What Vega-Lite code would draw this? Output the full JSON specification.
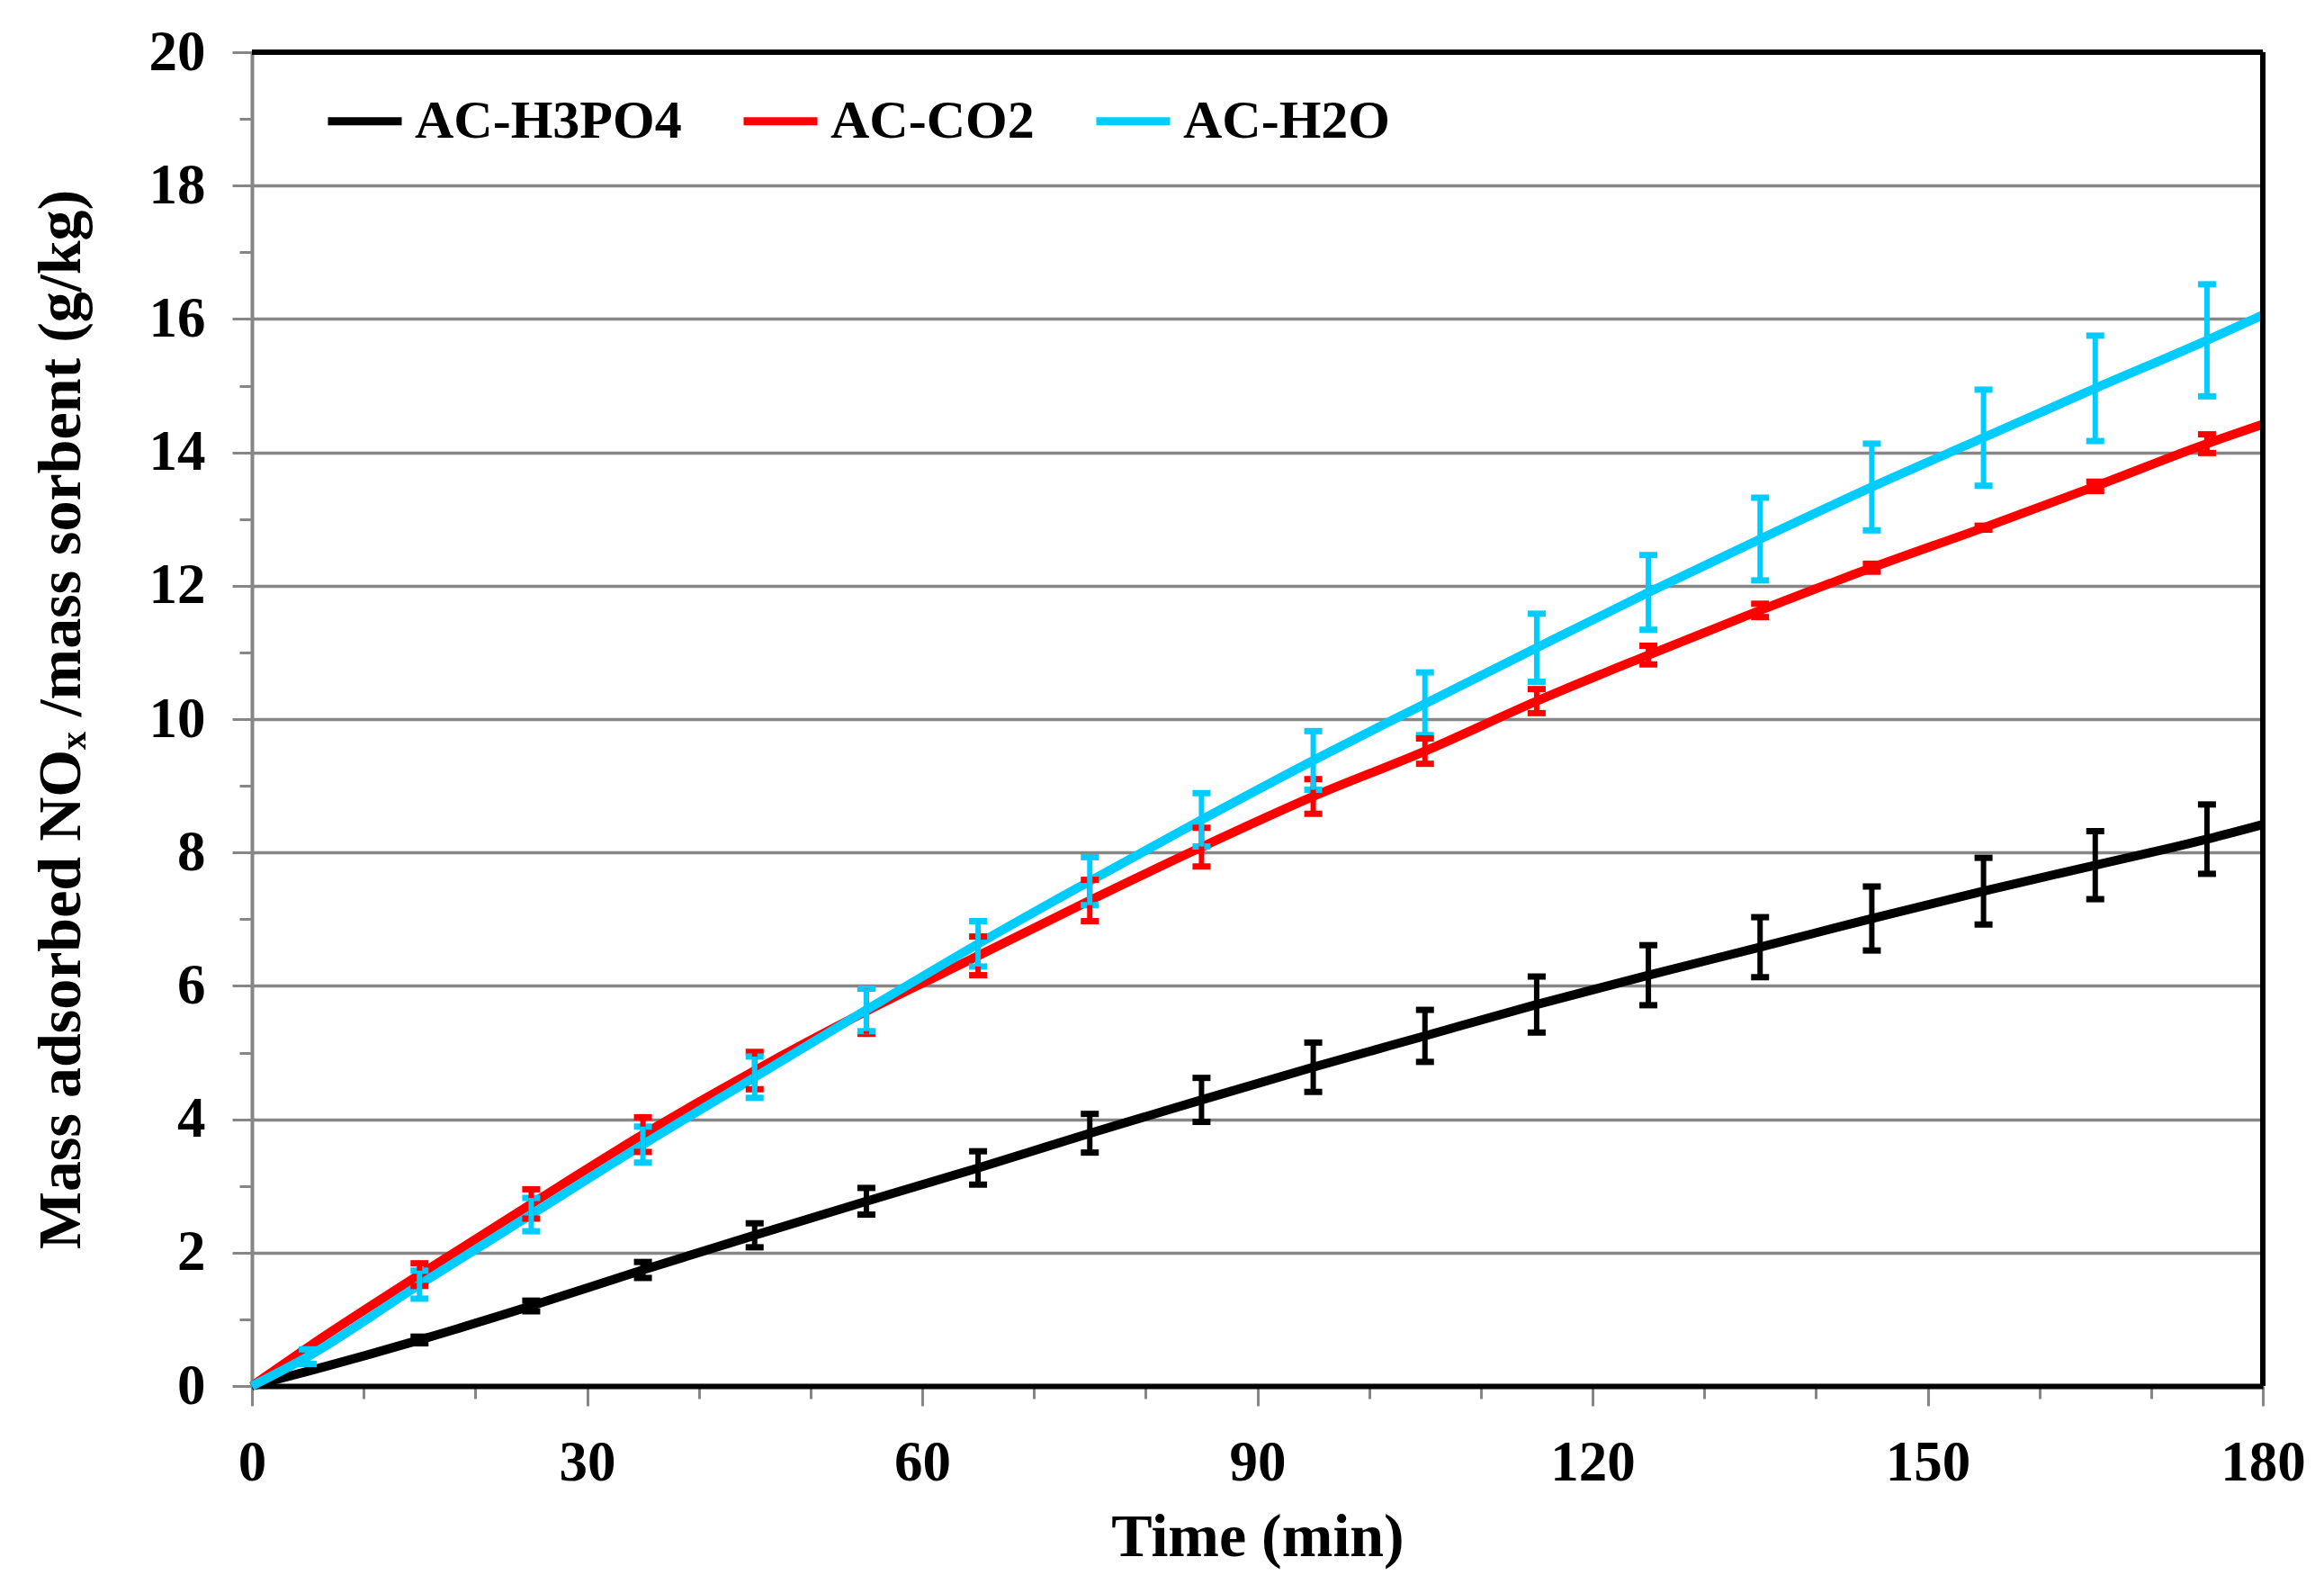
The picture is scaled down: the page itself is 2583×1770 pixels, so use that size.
{
  "$schema": "https://vega.github.io/schema/vega-lite/v6.json",
  "width": 2235,
  "height": 1482,
  "autosize": {"type": "none"},
  "padding": {"left": 280, "top": 58, "right": 68, "bottom": 230},
  "background": "white",
  "config": {
    "font": "Liberation Serif",
    "view": {"stroke": null},
    "axis": {
      "labelFont": "Liberation Serif",
      "labelFontWeight": "bold",
      "labelColor": "black",
      "labelFontSize": 63,
      "titleFont": "Liberation Serif",
      "titleFontWeight": "bold",
      "titleColor": "black",
      "titleFontSize": 68,
      "tickColor": "#868686",
      "tickWidth": 3
    },
    "legend": {
      "labelFont": "Liberation Serif",
      "labelFontWeight": "bold",
      "labelFontSize": 60,
      "labelColor": "black",
      "labelLimit": 0
    }
  },
  "datasets": {
    "frame": [{"edge": "top"}]
  },
  "data": {
    "values": [
      {"series": "AC-H3PO4", "t": 0, "v": 0},
      {"series": "AC-H3PO4", "t": 5, "v": 0.22},
      {"series": "AC-H3PO4", "t": 15, "v": 0.69, "err": 0.05},
      {"series": "AC-H3PO4", "t": 25, "v": 1.2, "err": 0.08},
      {"series": "AC-H3PO4", "t": 35, "v": 1.74, "err": 0.12},
      {"series": "AC-H3PO4", "t": 45, "v": 2.26, "err": 0.18},
      {"series": "AC-H3PO4", "t": 55, "v": 2.77, "err": 0.2},
      {"series": "AC-H3PO4", "t": 65, "v": 3.27, "err": 0.25},
      {"series": "AC-H3PO4", "t": 75, "v": 3.79, "err": 0.29},
      {"series": "AC-H3PO4", "t": 85, "v": 4.29, "err": 0.33},
      {"series": "AC-H3PO4", "t": 95, "v": 4.78, "err": 0.37},
      {"series": "AC-H3PO4", "t": 105, "v": 5.25, "err": 0.39},
      {"series": "AC-H3PO4", "t": 115, "v": 5.72, "err": 0.42},
      {"series": "AC-H3PO4", "t": 125, "v": 6.16, "err": 0.45},
      {"series": "AC-H3PO4", "t": 135, "v": 6.58, "err": 0.45},
      {"series": "AC-H3PO4", "t": 145, "v": 7.01, "err": 0.48},
      {"series": "AC-H3PO4", "t": 155, "v": 7.42, "err": 0.5},
      {"series": "AC-H3PO4", "t": 165, "v": 7.81, "err": 0.51},
      {"series": "AC-H3PO4", "t": 175, "v": 8.2, "err": 0.52},
      {"series": "AC-H3PO4", "t": 180, "v": 8.42},
      {"series": "AC-CO2", "t": 0, "v": 0},
      {"series": "AC-CO2", "t": 5, "v": 0.58},
      {"series": "AC-CO2", "t": 15, "v": 1.67, "err": 0.17},
      {"series": "AC-CO2", "t": 25, "v": 2.73, "err": 0.22},
      {"series": "AC-CO2", "t": 35, "v": 3.77, "err": 0.26},
      {"series": "AC-CO2", "t": 45, "v": 4.73, "err": 0.28},
      {"series": "AC-CO2", "t": 55, "v": 5.62, "err": 0.34},
      {"series": "AC-CO2", "t": 65, "v": 6.45, "err": 0.29},
      {"series": "AC-CO2", "t": 75, "v": 7.28, "err": 0.31},
      {"series": "AC-CO2", "t": 85, "v": 8.08, "err": 0.29},
      {"series": "AC-CO2", "t": 95, "v": 8.84, "err": 0.26},
      {"series": "AC-CO2", "t": 105, "v": 9.52, "err": 0.19},
      {"series": "AC-CO2", "t": 115, "v": 10.27, "err": 0.18},
      {"series": "AC-CO2", "t": 125, "v": 10.96, "err": 0.14},
      {"series": "AC-CO2", "t": 135, "v": 11.63, "err": 0.1},
      {"series": "AC-CO2", "t": 145, "v": 12.27, "err": 0.06},
      {"series": "AC-CO2", "t": 155, "v": 12.87, "err": 0.03},
      {"series": "AC-CO2", "t": 165, "v": 13.49, "err": 0.07},
      {"series": "AC-CO2", "t": 175, "v": 14.13, "err": 0.14},
      {"series": "AC-CO2", "t": 180, "v": 14.42},
      {"series": "AC-H2O", "t": 0, "v": 0},
      {"series": "AC-H2O", "t": 5, "v": 0.44, "err": 0.11},
      {"series": "AC-H2O", "t": 15, "v": 1.52, "err": 0.21},
      {"series": "AC-H2O", "t": 25, "v": 2.57, "err": 0.25},
      {"series": "AC-H2O", "t": 35, "v": 3.62, "err": 0.27},
      {"series": "AC-H2O", "t": 45, "v": 4.63, "err": 0.31},
      {"series": "AC-H2O", "t": 55, "v": 5.64, "err": 0.32},
      {"series": "AC-H2O", "t": 65, "v": 6.63, "err": 0.34},
      {"series": "AC-H2O", "t": 75, "v": 7.57, "err": 0.36},
      {"series": "AC-H2O", "t": 85, "v": 8.49, "err": 0.4},
      {"series": "AC-H2O", "t": 95, "v": 9.38, "err": 0.44},
      {"series": "AC-H2O", "t": 105, "v": 10.23, "err": 0.47},
      {"series": "AC-H2O", "t": 115, "v": 11.07, "err": 0.51},
      {"series": "AC-H2O", "t": 125, "v": 11.9, "err": 0.56},
      {"series": "AC-H2O", "t": 135, "v": 12.7, "err": 0.62},
      {"series": "AC-H2O", "t": 145, "v": 13.48, "err": 0.65},
      {"series": "AC-H2O", "t": 155, "v": 14.22, "err": 0.72},
      {"series": "AC-H2O", "t": 165, "v": 14.96, "err": 0.79},
      {"series": "AC-H2O", "t": 175, "v": 15.68, "err": 0.84},
      {"series": "AC-H2O", "t": 180, "v": 16.06}
    ]
  },
  "layer": [
    {
      "mark": {"type": "line", "strokeWidth": 10, "interpolate": "monotone", "opacity": 1},
      "encoding": {
        "x": {
          "field": "t",
          "type": "quantitative",
          "title": "Time (min)",
          "scale": {"domain": [0, 180], "nice": false, "zero": false},
          "axis": {
            "values": [0, 10, 20, 30, 40, 50, 60, 70, 80, 90, 100, 110, 120, 130, 140, 150, 160, 170, 180],
            "format": "d",
            "labelExpr": "datum.value % 30 === 0 ? datum.label : ''",
            "grid": false,
            "domainColor": "black",
            "domainWidth": 6,
            "tickSize": {"condition": {"test": "datum.value % 30 === 0", "value": 22}, "value": 14},
            "labelPadding": 82,
            "labelBaseline": "alphabetic",
            "labelFlush": false,
            "titleBaseline": "alphabetic",
            "titleY": 188
          }
        },
        "y": {
          "field": "v",
          "type": "quantitative",
          "title": "Mass adsorbed NOₓ /mass sorbent (g/kg)",
          "scale": {"domain": [0, 20], "nice": false},
          "axis": {
            "values": [0, 1, 2, 3, 4, 5, 6, 7, 8, 9, 10, 11, 12, 13, 14, 15, 16, 17, 18, 19, 20],
            "format": "d",
            "labelExpr": "datum.value % 2 === 0 ? datum.label : ''",
            "grid": true,
            "gridColor": "#868686",
            "gridWidth": 3.5,
            "gridOpacity": {"condition": {"test": "datum.value % 2 === 0", "value": 1}, "value": 0},
            "domainColor": "#868686",
            "domainWidth": 4,
            "tickSize": {"condition": {"test": "datum.value % 2 === 0", "value": 22}, "value": 14},
            "labelPadding": 30,
            "labelFlush": false,
            "titleX": -178,
            "titleBaseline": "bottom"
          }
        },
        "color": {
          "field": "series",
          "type": "nominal",
          "scale": {
            "domain": ["AC-H3PO4", "AC-CO2", "AC-H2O"],
            "range": ["#000000", "#FF0000", "#00CCFF"]
          },
          "legend": {
            "title": null,
            "orient": "none",
            "direction": "horizontal",
            "legendX": 80,
            "legendY": 31,
            "padding": 0,
            "symbolType": "stroke",
            "symbolSize": 6724,
            "symbolStrokeWidth": 9,
            "symbolOpacity": 1,
            "labelOffset": 10,
            "columnPadding": 50
          }
        }
      }
    },
    {
      "transform": [{"filter": "isValid(datum.err)"}],
      "mark": {
        "type": "errorbar",
        "thickness": 6,
        "opacity": 1,
        "rule": {"opacity": 1, "strokeWidth": 6},
        "ticks": {"size": 20, "thickness": 7, "opacity": 1}
      },
      "encoding": {
        "x": {"field": "t", "type": "quantitative", "title": "Time (min)"},
        "y": {"field": "v", "type": "quantitative", "title": "Mass adsorbed NOₓ /mass sorbent (g/kg)"},
        "yError": {"field": "err"},
        "color": {"field": "series", "type": "nominal"}
      }
    },
    {
      "data": {"name": "frame"},
      "mark": {"type": "rule", "color": "black", "strokeWidth": 6},
      "encoding": {
        "x": {"datum": 0},
        "x2": {"datum": 180},
        "y": {"datum": 20}
      }
    },
    {
      "data": {"name": "frame"},
      "mark": {"type": "rule", "color": "black", "strokeWidth": 6},
      "encoding": {
        "x": {"datum": 180},
        "y": {"datum": 0},
        "y2": {"datum": 20}
      }
    }
  ]
}
